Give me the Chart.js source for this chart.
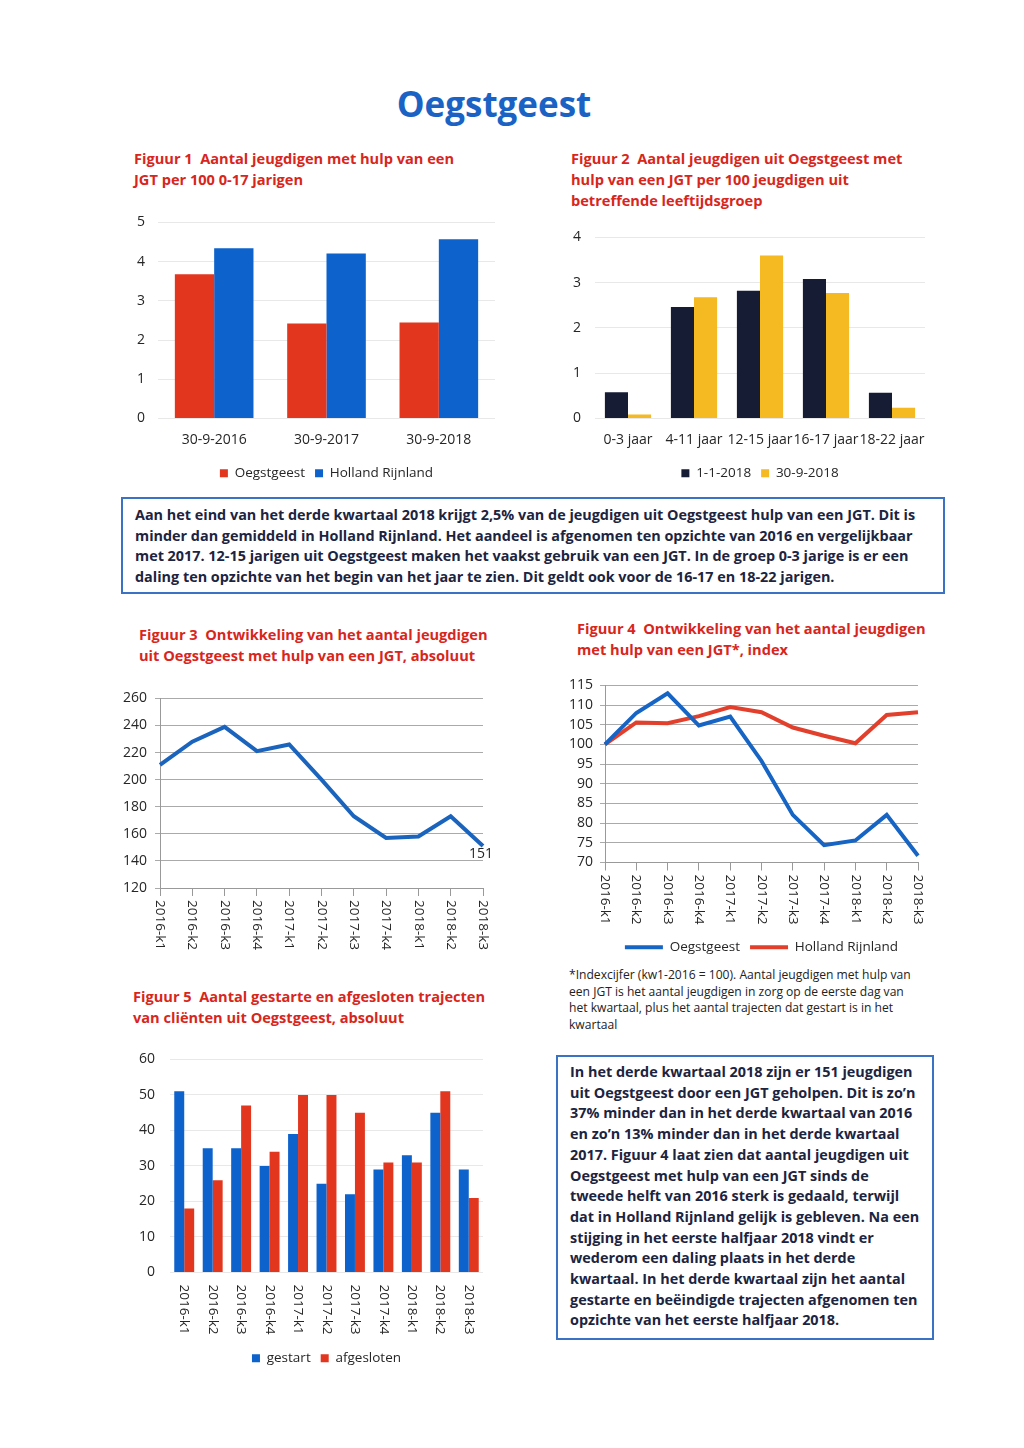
<!DOCTYPE html>
<html>
<head>
<meta charset="utf-8">
<script src="https://cdn.jsdelivr.net/npm/chart.js@4.4.1/dist/chart.umd.min.js"></script>
<style>
  body { margin: 0; width: 1024px; height: 1448px; background: #fff; position: relative; font-family: 'Open Sans', sans-serif; overflow: hidden; }
  h1 { position: absolute; left: 0; width: 988px; top: 80px; margin: 0; text-align: center; color: #1a62c4; font-size: 35px; font-weight: 700; line-height: 48px; }
  .ftitle { position: absolute; color: #d8261c; font-weight: 700; font-size: 14.6px; line-height: 21px; white-space: nowrap; }
  .box { position: absolute; border: 2px solid #3b73c4; box-sizing: border-box; color: #1c2440; font-weight: 700; white-space: nowrap; }
  .note { position: absolute; color: #222; font-size: 12.1px; line-height: 16.7px; white-space: nowrap; }
  canvas { position: absolute; }
</style>
</head>
<body>
<h1>Oegstgeest</h1>

<div class="ftitle" style="left:134px; top:148px;">Figuur 1&nbsp; Aantal jeugdigen met hulp van een<br>JGT per 100 0-17 jarigen</div>
<div class="ftitle" style="left:571px; top:148px;">Figuur 2&nbsp; Aantal jeugdigen uit Oegstgeest met<br>hulp van een JGT per 100 jeugdigen uit<br>betreffende leeftijdsgroep</div>

<canvas id="fig1" width="385" height="279" style="left:120px; top:211px;"></canvas>
<canvas id="fig2" width="380" height="264" style="left:555px; top:226px;"></canvas>

<div class="box" style="left:121px; top:497px; width:824px; height:97px; padding:6px 0 0 12px; font-size:14.4px; line-height:20.5px;">
Aan het eind van het derde kwartaal 2018 krijgt 2,5% van de jeugdigen uit Oegstgeest hulp van een JGT. Dit is<br>
minder dan gemiddeld in Holland Rijnland. Het aandeel is afgenomen ten opzichte van 2016 en vergelijkbaar<br>
met 2017. 12-15 jarigen uit Oegstgeest maken het vaakst gebruik van een JGT. In de groep 0-3 jarige is er een<br>
daling ten opzichte van het begin van het jaar te zien. Dit geldt ook voor de 16-17 en 18-22 jarigen.
</div>

<div class="ftitle" style="left:139px; top:624px;">Figuur 3&nbsp; Ontwikkeling van het aantal jeugdigen<br>uit Oegstgeest met hulp van een JGT, absoluut</div>
<div class="ftitle" style="left:577px; top:618px;">Figuur 4&nbsp; Ontwikkeling van het aantal jeugdigen<br>met hulp van een JGT*, index</div>

<canvas id="fig3" width="380" height="276" style="left:115px; top:682px;"></canvas>
<canvas id="fig4" width="375" height="294" style="left:555px; top:670px;"></canvas>

<div class="note" style="left:569px; top:967px;">*Indexcijfer (kw1-2016 = 100). Aantal jeugdigen met hulp van<br>een JGT is het aantal jeugdigen in zorg op de eerste dag van<br>het kwartaal, plus het aantal trajecten dat gestart is in het<br>kwartaal</div>

<div class="ftitle" style="left:133px; top:986px;">Figuur 5&nbsp; Aantal gestarte en afgesloten trajecten<br>van cliënten uit Oegstgeest, absoluut</div>

<canvas id="fig5" width="380" height="327" style="left:115px; top:1048px;"></canvas>

<div class="box" style="left:556px; top:1055px; width:378px; height:285px; padding:5px 0 0 12px; font-size:14.4px; line-height:20.7px;">
In het derde kwartaal 2018 zijn er 151 jeugdigen<br>
uit Oegstgeest door een JGT geholpen. Dit is zo’n<br>
37% minder dan in het derde kwartaal van 2016<br>
en zo’n 13% minder dan in het derde kwartaal<br>
2017. Figuur 4 laat zien dat aantal jeugdigen uit<br>
Oegstgeest met hulp van een JGT sinds de<br>
tweede helft van 2016 sterk is gedaald, terwijl<br>
dat in Holland Rijnland gelijk is gebleven. Na een<br>
stijging in het eerste halfjaar 2018 vindt er<br>
wederom een daling plaats in het derde<br>
kwartaal. In het derde kwartaal zijn het aantal<br>
gestarte en beëindigde trajecten afgenomen ten<br>
opzichte van het eerste halfjaar 2018.
</div>

<script>
// figuur 1
var fig1Dates = ["30-9-2016", "30-9-2017", "30-9-2018"];
var fig1Oegstgeest = [3.68, 2.42, 2.45];
var fig1Holland = [4.34, 4.21, 4.57];
// figuur 2
var fig2Groups = ["0-3 jaar", "4-11 jaar", "12-15 jaar", "16-17 jaar", "18-22 jaar"];
var fig2Jan = [0.58, 2.46, 2.82, 3.08, 0.57];
var fig2Sep = [0.09, 2.68, 3.6, 2.77, 0.24];
// figuur 3, 4, 5
var quarters = ["2016-k1", "2016-k2", "2016-k3", "2016-k4", "2017-k1", "2017-k2", "2017-k3", "2017-k4", "2018-k1", "2018-k2", "2018-k3"];
var fig3Count = [211, 228, 239, 221, 226, 200, 173, 157, 158, 173, 151];
var fig4Oegstgeest = [100, 108, 113, 104.8, 107.1, 95.8, 82.1, 74.4, 75.6, 82.1, 71.7];
var fig4Holland = [100, 105.6, 105.4, 107.2, 109.5, 108.2, 104.3, 102.2, 100.3, 107.5, 108.2];
var fig5Started = [51, 35, 35, 30, 39, 25, 22, 29, 33, 45, 29];
var fig5Closed = [18, 26, 47, 34, 50, 50, 45, 31, 31, 51, 21];

Chart.defaults.font.family = "'Open Sans', sans-serif";
Chart.defaults.color = "#262626";
Chart.defaults.animation = false;
Chart.defaults.plugins.tooltip.enabled = false;

// x labels that read top to bottom (turned clockwise)
Chart.register({
    id: "downLabels",
    afterDraw: function (chart, args, opts) {
        if (!opts.labels) return;
        var x = chart.scales.x, ctx = chart.ctx;
        ctx.save();
        ctx.font = "13.5px 'Open Sans'";
        ctx.fillStyle = "#262626";
        ctx.textAlign = "left";
        ctx.textBaseline = "middle";
        opts.labels.forEach(function (lab, i) {
            ctx.save();
            ctx.translate(x.getPixelForValue(i), x.top + opts.offset);
            ctx.rotate(Math.PI / 2);
            ctx.fillText(lab, 0, 0);
            ctx.restore();
        });
        ctx.restore();
    }
});

// last value label in figuur 3
var lastLabel = {
    id: "lastLabel",
    afterDatasetsDraw: function (chart) {
        var meta = chart.getDatasetMeta(0);
        var pt = meta.data[meta.data.length - 1];
        var ctx = chart.ctx;
        ctx.save();
        ctx.font = "14px 'Open Sans'";
        ctx.fillStyle = "#262626";
        ctx.textAlign = "center";
        ctx.textBaseline = "top";
        ctx.fillText(fig3Count[fig3Count.length - 1], pt.x - 2, pt.y + 1);
        ctx.restore();
    }
};

// legend under the plot area only, so it centres on the bars
function barLegend() {
    return { position: "bottom", fullSize: false, labels: { boxWidth: 8, boxHeight: 8, font: { size: 13.5 }, padding: 10 } };
}

// y axis of the bar charts: light grid, no axis line
function barY(max, step, width, tick) {
    return {
        min: 0, max: max,
        ticks: { stepSize: step, font: { size: 14 }, padding: 3, autoSkip: false },
        grid: { color: "#e8e8e8", tickLength: tick, tickColor: "rgba(0,0,0,0)" },
        border: { display: false },
        afterFit: function (s) { s.width = width; }
    };
}

function lineX(h) {
    return {
        ticks: { display: false },
        grid: { drawOnChartArea: false, tickLength: 8, color: "#999" },
        border: { color: "#999" },
        afterFit: function (s) { s.height = h; }
    };
}

new Chart(document.getElementById("fig1"), {
    type: "bar",
    data: {
        labels: fig1Dates,
        datasets: [
            { label: "Oegstgeest", data: fig1Oegstgeest, backgroundColor: "#e2361f" },
            { label: "Holland Rijnland", data: fig1Holland, backgroundColor: "#0d62cc" }
        ]
    },
    options: {
        responsive: false,
        layout: { padding: { top: 0, right: 10 } },
        categoryPercentage: 0.7,
        barPercentage: 1,
        scales: {
            x: {
                grid: { display: false }, border: { display: false },
                ticks: { font: { size: 14 }, maxRotation: 0, padding: 5 },
                afterFit: function (s) { s.height = 38; }
            },
            y: barY(5, 1, 38, 10)
        },
        plugins: { legend: barLegend() }
    }
});

new Chart(document.getElementById("fig2"), {
    type: "bar",
    data: {
        labels: fig2Groups,
        datasets: [
            { label: "1-1-2018", data: fig2Jan, backgroundColor: "#151c33" },
            { label: "30-9-2018", data: fig2Sep, backgroundColor: "#f5b921" }
        ]
    },
    options: {
        responsive: false,
        layout: { padding: { top: 0, right: 10 } },
        categoryPercentage: 0.7,
        barPercentage: 1,
        scales: {
            x: {
                grid: { display: false }, border: { display: false },
                ticks: { font: { size: 14 }, maxRotation: 0, autoSkip: false, padding: 5 },
                afterFit: function (s) { s.height = 38; }
            },
            y: barY(4, 1, 40, 11)
        },
        plugins: { legend: barLegend() }
    }
});

new Chart(document.getElementById("fig3"), {
    type: "line",
    data: {
        labels: quarters,
        datasets: [{ data: fig3Count, borderColor: "#1b64bd", borderWidth: 4, pointRadius: 0, tension: 0 }]
    },
    options: {
        responsive: false,
        layout: { padding: { top: 0, right: 12 } },
        scales: {
            x: lineX(70),
            y: {
                min: 120, max: 260, ticks: { stepSize: 20, font: { size: 14 }, padding: 8, autoSkip: false },
                grid: { color: "#aaa", tickLength: 5 }, border: { color: "#999" },
                afterFit: function (s) { s.width = 45; }
            }
        },
        plugins: { legend: { display: false }, downLabels: { labels: quarters, offset: 12 } }
    },
    plugins: [lastLabel]
});

new Chart(document.getElementById("fig4"), {
    type: "line",
    data: {
        labels: quarters,
        datasets: [
            { label: "Oegstgeest", data: fig4Oegstgeest, borderColor: "#1664c4", backgroundColor: "#1664c4", borderWidth: 4, pointRadius: 0, tension: 0 },
            { label: "Holland Rijnland", data: fig4Holland, borderColor: "#e2402c", backgroundColor: "#e2402c", borderWidth: 4, pointRadius: 0, tension: 0 }
        ]
    },
    options: {
        responsive: false,
        layout: { padding: { top: 0, right: 12 } },
        scales: {
            x: lineX(68),
            y: {
                min: 70, max: 115, ticks: { stepSize: 5, font: { size: 14 }, padding: 7, autoSkip: false },
                grid: { color: "#aaa", tickLength: 5 }, border: { color: "#999" },
                afterFit: function (s) { s.width = 50; }
            }
        },
        plugins: {
            legend: {
                position: "bottom",
                fullSize: false,
                labels: { usePointStyle: true, pointStyle: "line", pointStyleWidth: 38, font: { size: 13.5 }, padding: 10 }
            },
            downLabels: { labels: quarters, offset: 12 }
        }
    }
});

new Chart(document.getElementById("fig5"), {
    type: "bar",
    data: {
        labels: quarters,
        datasets: [
            { label: "gestart", data: fig5Started, backgroundColor: "#0d62cc" },
            { label: "afgesloten", data: fig5Closed, backgroundColor: "#e2361f" }
        ]
    },
    options: {
        responsive: false,
        layout: { padding: { top: 0, right: 12 } },
        categoryPercentage: 0.7,
        barPercentage: 1,
        scales: {
            x: {
                ticks: { display: false },
                grid: { display: false }, border: { display: false },
                afterFit: function (s) { s.height = 69; }
            },
            y: barY(60, 10, 55, 12)
        },
        plugins: { legend: barLegend(), downLabels: { labels: quarters, offset: 12 } }
    }
});
</script>
</body>
</html>
